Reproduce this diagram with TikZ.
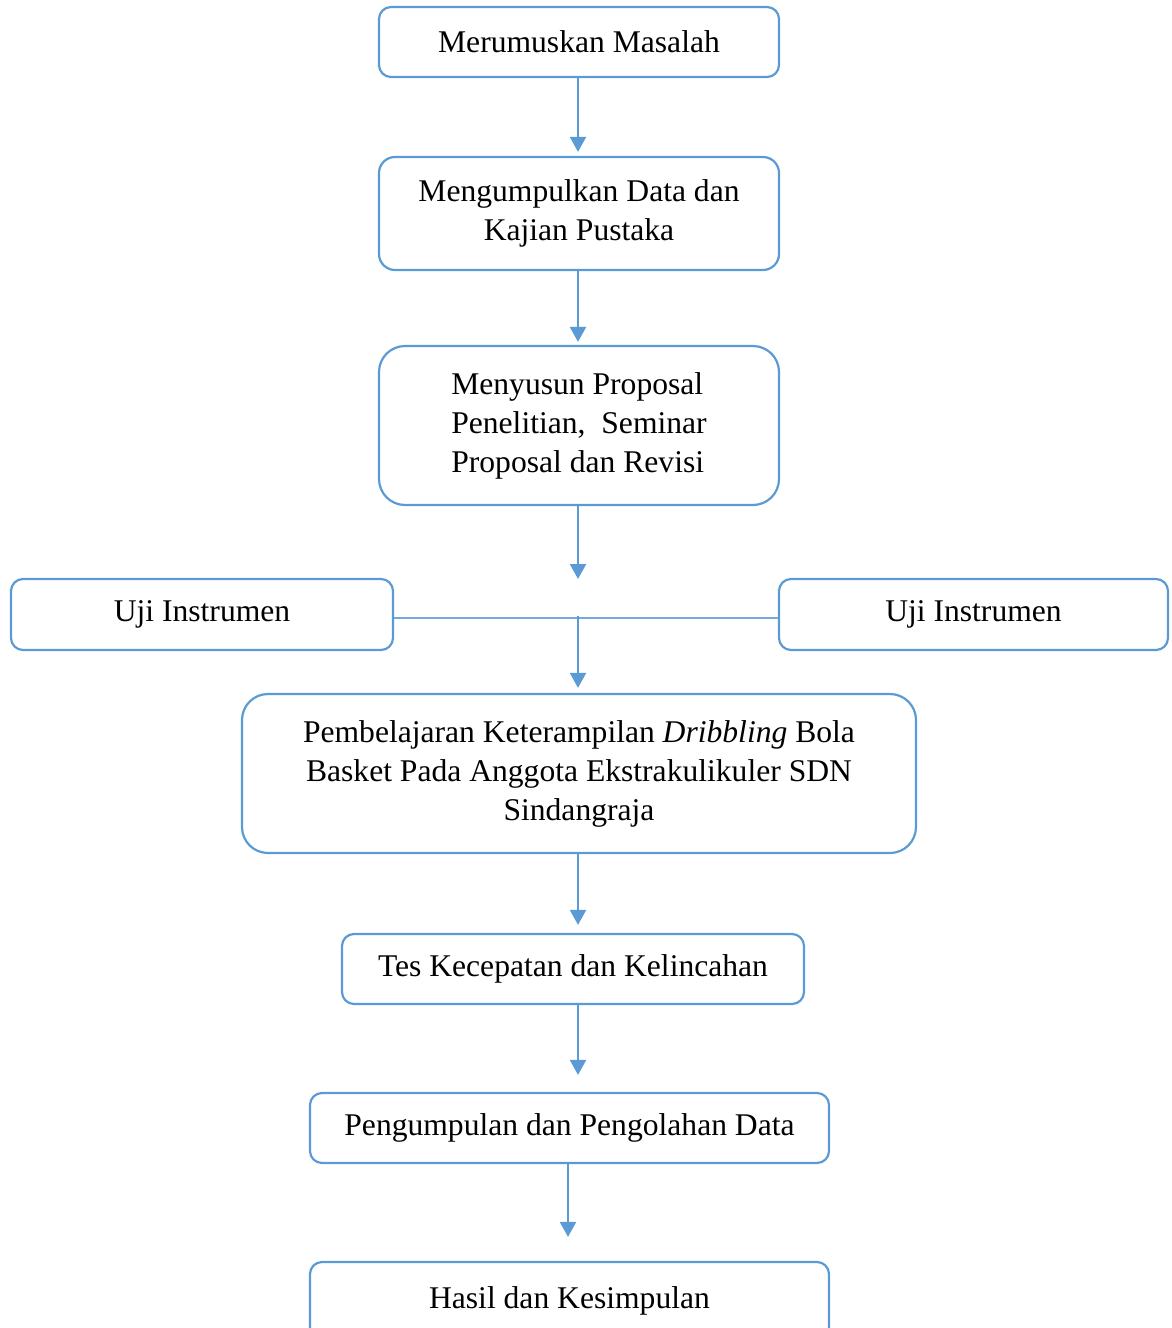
\documentclass[tikz,border=0pt]{standalone}
\usepackage{fontspec}
\setmainfont{Liberation Serif}
\usetikzlibrary{arrows.meta}
\definecolor{bl}{HTML}{5B9BD5}
\tikzset{
  box/.style={draw=bl, line width=2.2pt, rounded corners=12pt, inner sep=0pt, align=center,
    font=\fontsize{31.6}{39}\selectfont},
  bigbox/.style={box, rounded corners=26pt},
  arr/.style={draw=bl, line width=2.2pt, -{Triangle[width=16pt,length=15pt]}},
}
\begin{document}
\begin{tikzpicture}[x=1pt,y=-1pt]
\useasboundingbox (0,0) rectangle (1171,1328);
\node[box, minimum width=400pt, minimum height=70pt] (b1) at (579,42) {Merumuskan Masalah};
\node[box, minimum width=400pt, minimum height=113pt, rounded corners=16pt] (b2) at (579,213.5) {Mengumpulkan Data dan\\Kajian Pustaka};
\node[bigbox, minimum width=400pt, minimum height=159pt, align=left] (b3) at (579,425.5) {Menyusun Proposal\\Penelitian,\ \ Seminar\\Proposal dan Revisi};
\node[box, minimum width=382pt, minimum height=71pt] (u1) at (202,614.5) {Uji Instrumen};
\node[box, minimum width=389pt, minimum height=71pt] (u2) at (973.5,614.5) {Uji Instrumen};
\node[bigbox, minimum width=674pt, minimum height=159pt] (b4) at (579,773.5) {Pembelajaran Keterampilan \textit{Dribbling} Bola\\Basket Pada Anggota Ekstrakulikuler SDN\\Sindangraja};
\node[box, minimum width=462pt, minimum height=70pt] (b5) at (573,969) {Tes Kecepatan dan Kelincahan};
\node[box, minimum width=519pt, minimum height=70pt] (b6) at (569.5,1128) {Pengumpulan dan Pengolahan Data};
\node[box, minimum width=519pt, minimum height=78pt] (b7) at (569.5,1301) {Hasil dan Kesimpulan};
\coordinate (t3) at (578,579);
\coordinate (m) at (578,616);
\draw[arr, shorten >=4pt] (b1.south -| 578,0) -- (b2.north -| 578,0);
\draw[arr, shorten >=3pt] (b2.south -| 578,0) -- (b3.north -| 578,0);
\draw[arr] (b3.south -| 578,0) -- (t3);
\draw[draw=bl!85, line width=1.2pt] ([yshift=-3.5pt]u1.east) -- ([yshift=-3.5pt]u2.west);
\draw[arr, shorten >=5pt] (m) -- (b4.north -| 578,0);
\draw[arr, shorten >=8pt] (b4.south -| 578,0) -- (b5.north -| 578,0);
\draw[arr, shorten >=17pt] (b5.south -| 578,0) -- (b6.north -| 578,0);
\draw[arr, shorten >=24pt] (b6.south -| 568,0) -- (b7.north -| 568,0);
\end{tikzpicture}
\end{document}
